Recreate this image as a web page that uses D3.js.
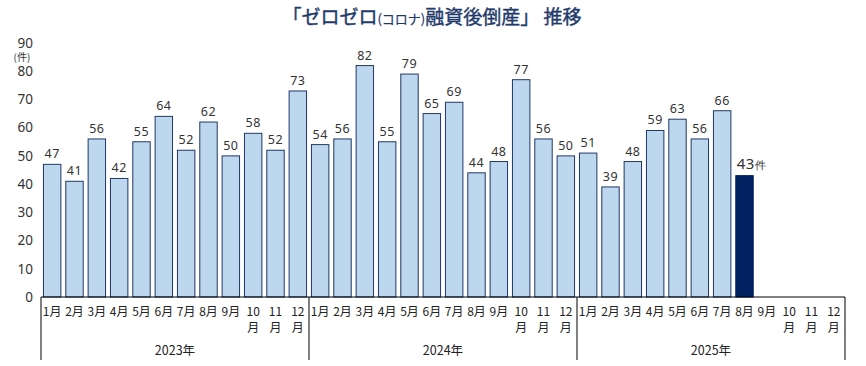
<!DOCTYPE html>
<html>
<head>
<meta charset="utf-8">
<script src="https://cdn.jsdelivr.net/npm/d3@7"></script>
<style>
  body { margin: 0; background: #fff; }
  svg { font-family: "Noto Sans CJK JP", "Noto Sans", sans-serif; }
</style>
</head>
<body>
<svg id="chart" width="866" height="366"></svg>
<script>
let years = ["2023年", "2024年", "2025年"];
let months = ["1月", "2月", "3月", "4月", "5月", "6月", "7月", "8月", "9月", "10月", "11月", "12月"];
let values2023 = [47, 41, 56, 42, 55, 64, 52, 62, 50, 58, 52, 73];
let values2024 = [54, 56, 82, 55, 79, 65, 69, 44, 48, 77, 56, 50];
let values2025 = [51, 39, 48, 59, 63, 56, 66, 43];
let yTicks = [0, 10, 20, 30, 40, 50, 60, 70, 80, 90];

let svg = d3.select("#chart");
let margin = {top: 43, right: 21, bottom: 69, left: 41};
let W = 866, H = 366;
let plotBottom = H - margin.bottom;

// flatten into one list of slots (36 months)
let allValues = [values2023, values2024, values2025];
let slots = [];
years.forEach((y, yi) => {
  months.forEach((m, mi) => {
    slots.push({key: y + m, year: y, month: m, yi, mi, value: allValues[yi][mi]});
  });
});
let lastIndex = 12 * 2 + values2025.length - 1;

let x = d3.scaleBand()
  .domain(slots.map(d => d.key))
  .range([margin.left, W - margin.right])
  .paddingInner(0.22)
  .paddingOuter(0.11);

let y = d3.scaleLinear()
  .domain([0, 90])
  .range([plotBottom, margin.top]);

// title
let title = svg.append("text")
  .attr("x", 432)
  .attr("y", 24)
  .attr("text-anchor", "middle")
  .attr("fill", "#1f3a6b")
  .attr("stroke", "#1f3a6b")
  .attr("stroke-width", 0.4)
  .attr("font-size", 19);
title.append("tspan").text("「ゼロゼロ");
title.append("tspan").attr("font-size", 13).attr("stroke-width", 0.2).text("(コロナ)");
title.append("tspan").text("融資後倒産」 推移");

// y axis (labels only)
let yAxis = svg.append("g")
  .attr("transform", `translate(${margin.left - 8},0)`)
  .call(d3.axisLeft(y).tickValues(yTicks).tickSize(0).tickPadding(0));
yAxis.select(".domain").remove();
yAxis.selectAll("text")
  .attr("font-size", 13.5)
  .attr("fill", "#333")
  .attr("font-family", "'Noto Sans', sans-serif");

svg.append("text")
  .attr("x", 22)
  .attr("y", 61)
  .attr("text-anchor", "middle")
  .attr("font-size", 10)
  .attr("fill", "#333")
  .text("(件)");

// bars
let data = slots.filter(d => d.value !== undefined);
svg.append("g")
  .selectAll("rect")
  .data(data)
  .join("rect")
  .attr("x", d => x(d.key))
  .attr("y", d => y(d.value))
  .attr("width", x.bandwidth())
  .attr("height", d => plotBottom - y(d.value))
  .attr("fill", (d, i) => i === lastIndex ? "#002060" : "#bdd7ee")
  .attr("stroke", (d, i) => i === lastIndex ? "#002060" : "#1f3864")
  .attr("stroke-width", 1);

// value labels
svg.append("g")
  .selectAll("text")
  .data(data)
  .join("text")
  .attr("x", (d, i) => x(d.key) + x.bandwidth() / 2 + (i === lastIndex ? 7 : 0))
  .attr("y", (d, i) => y(d.value) - (i === lastIndex ? 7 : 6))
  .attr("text-anchor", "middle")
  .attr("fill", "#333")
  .attr("font-family", "'Noto Sans', sans-serif")
  .attr("font-size", (d, i) => i === lastIndex ? 15 : 12.5)
  .attr("letter-spacing", 0.5)
  .each(function(d, i) {
    let t = d3.select(this);
    t.append("tspan").text(d.value);
    if (i === lastIndex) t.append("tspan").attr("font-size", 11).text("件");
  });

// x axis baseline
svg.append("line")
  .attr("x1", margin.left).attr("x2", W - margin.right)
  .attr("y1", plotBottom).attr("y2", plotBottom)
  .attr("stroke", "#000").attr("stroke-width", 1);

// year separators
let step = x.step();
let yearEdges = d3.range(years.length + 1).map(i => margin.left + i * 12 * step);
svg.append("g")
  .selectAll("line")
  .data(yearEdges)
  .join("line")
  .attr("x1", d => d).attr("x2", d => d)
  .attr("y1", plotBottom).attr("y2", H - 6)
  .attr("stroke", "#000").attr("stroke-width", 1);

// month labels
let monthG = svg.append("g")
  .attr("font-size", 12)
  .attr("fill", "#222");
monthG.selectAll("text")
  .data(slots)
  .join("text")
  .attr("x", d => x(d.key) + x.bandwidth() / 2)
  .attr("y", plotBottom + 19)
  .attr("text-anchor", "middle")
  .each(function(d) {
    let t = d3.select(this);
    if (d.mi >= 9) {
      t.append("tspan").attr("x", x(d.key) + x.bandwidth() / 2).text(d.month.replace("月", ""));
      t.append("tspan").attr("x", x(d.key) + x.bandwidth() / 2).attr("dy", 16).text("月");
    } else {
      t.text(d.month);
    }
  });

// year labels
svg.append("g")
  .selectAll("text")
  .data(years)
  .join("text")
  .attr("x", (d, i) => (yearEdges[i] + yearEdges[i + 1]) / 2)
  .attr("y", H - 11)
  .attr("text-anchor", "middle")
  .attr("font-size", 12.5)
  .attr("fill", "#222")
  .text(d => d);
</script>
</body>
</html>
